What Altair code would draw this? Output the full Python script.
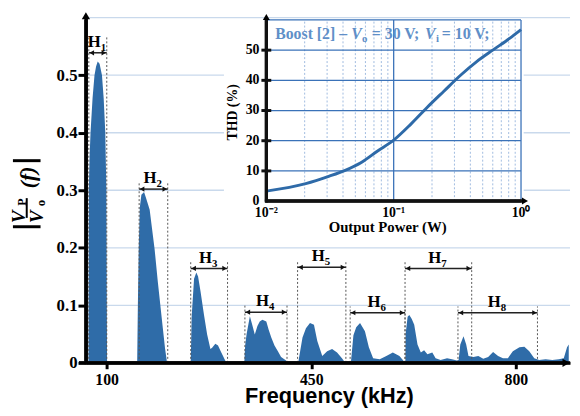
import altair as alt
import pandas as pd

# ---------------- data: spectrum ----------------
freq_khz = [
    69.0, 69.6, 71.0, 72.5, 76.0, 79.3, 82.0, 84.8, 88.0, 92.1, 95.0, 97.8, 99.6, 100.4, 100.8,
    152.3, 153.5, 155.0, 156.8, 159.5, 164.1, 168.0, 173.7, 176.4, 182.1, 187.7, 196.1, 200.0, 203.4,
    243.9, 245.5, 249.6, 253.5, 256.5, 260.7, 266.5, 272.0, 277.6, 280.5, 286.0, 290.6, 296.2, 302.9, 305.8,
    335.6, 337.0, 339.5, 345.1, 349.1, 353.5, 358.0, 362.0, 366.5, 373.2, 377.1, 381.7, 387.2, 393.0, 398.5, 407.0, 409.8,
    427.7, 435.1, 441.0, 447.9, 454.7, 460.4, 468.9, 477.3, 485.7, 494.2, 502.6, 508.2,
    517.8, 522.2, 527.0, 533.5, 541.9, 548.6, 555.9, 567.2, 578.5, 589.6, 600.9, 608.2, 609.5,
    611.0, 611.5, 614.9, 617.8, 622.0, 626.2, 631.8, 637.5, 643.1, 648.7, 657.1, 662.8, 671.3, 682.4, 690.8, 699.3,
    702.1, 705.0, 710.5, 715.1, 719.0, 727.4, 735.8, 744.3, 752.7, 761.1, 769.6, 778.0, 786.4, 794.9, 806.2,
    814.6, 823.0, 831.5, 839.9, 851.0, 862.3, 873.6, 882.0, 887.6, 890.5,
]
magnitude = [
    0.0, 0.30, 0.36, 0.40, 0.46, 0.50, 0.515, 0.524, 0.52, 0.50, 0.46, 0.40, 0.30, 0.10, 0.0,
    0.0, 0.10, 0.20, 0.27, 0.292, 0.297, 0.285, 0.266, 0.244, 0.198, 0.14, 0.061, 0.025, 0.0,
    0.0, 0.08, 0.146, 0.157, 0.15, 0.124, 0.084, 0.049, 0.024, 0.026, 0.033, 0.03, 0.018, 0.004, 0.0,
    0.0, 0.03, 0.05, 0.081, 0.066, 0.049, 0.064, 0.072, 0.075, 0.072, 0.058, 0.044, 0.03, 0.02, 0.01, 0.004, 0.0,
    0.0, 0.044, 0.06, 0.069, 0.066, 0.038, 0.012, 0.02, 0.024, 0.018, 0.008, 0.0,
    0.0, 0.048, 0.062, 0.069, 0.055, 0.027, 0.008, 0.006, 0.012, 0.018, 0.012, 0.003, 0.0,
    0.0, 0.05, 0.08, 0.083, 0.076, 0.066, 0.032, 0.018, 0.022, 0.015, 0.018, 0.008, 0.005, 0.008, 0.006, 0.004,
    0.005, 0.032, 0.046, 0.032, 0.012, 0.01, 0.012, 0.007, 0.01, 0.019, 0.012, 0.008, 0.008, 0.02, 0.027,
    0.028, 0.02, 0.008, 0.005, 0.006, 0.005, 0.006, 0.008, 0.027, 0.032,
]

# ---------------- data: harmonic bands ----------------
harmonic_index = ["1", "2", "3", "4", "5", "6", "7", "8"]
band_left = [69.6, 155.7, 243.9, 336.6, 426.7, 516.6, 610.5, 701.0]
band_right = [100.3, 204.6, 306.9, 408.6, 509.3, 610.5, 724.5, 837.0]
arrow_level = [0.539, 0.302, 0.164, 0.088, 0.166, 0.087, 0.164, 0.087]
band_top = [0.569, 0.314, 0.176, 0.100, 0.178, 0.098, 0.176, 0.098]

# ---------------- data: inset THD curve ----------------
thd_power_w = [0.01, 0.0204, 0.0309, 0.0416, 0.0561, 0.0753, 0.1, 0.1365, 0.1837,
               0.2477, 0.3334, 0.4487, 0.604, 0.813, 1.0]
thd_percent = [3.3, 5.8, 8.2, 10.2, 12.9, 16.7, 20.2, 25.5, 31.1,
               36.4, 41.6, 46.2, 50.1, 53.9, 56.8]

# ---------------- axes / grids ----------------
main_x_ticks = [100, 450, 800]
main_y_ticks = [0, 0.1, 0.2, 0.3, 0.4, 0.5]
main_grid = [0.1, 0.2, 0.3, 0.4, 0.5, 0.6]
main_x_domain = [64.6, 892.7]
main_y_domain = [0, 0.6]
inset_y_ticks = [0, 10, 20, 30, 40, 50]
inset_x_ticks = [0.01, 0.1, 1.0]
inset_x_labels = ["10⁻²", "10⁻¹", "10⁰"]
inset_hgrid = [10, 20, 30, 40, 50, 60]
inset_major_v = [0.1, 1.0]
inset_minor_v = [0.02, 0.03, 0.04, 0.05, 0.06, 0.07, 0.08, 0.09,
                 0.2, 0.3, 0.4, 0.5, 0.6, 0.7, 0.8, 0.9]
inset_x_domain = [0.01, 1.0]
inset_y_domain = [0, 60]

SERIF = "Liberation Serif"
SANS = "Liberation Sans"
FILL = "#2f6ca8"
AXC = "#111111"
W, H = 491, 350
IX0, IX1, IY0, IY1 = 183, 441.3, 186, 2.3   # inset plot rectangle inside the main view

X = alt.Scale(domain=main_x_domain, nice=False, zero=False)
Y = alt.Scale(domain=main_y_domain, nice=False, zero=False)
AXX = alt.Axis(values=main_x_ticks, title=None, grid=False, domain=True, domainColor="black",
               domainWidth=3, ticks=True, tickColor="black", tickWidth=3, tickSize=6,
               labelFont=SERIF, labelFontSize=16, labelFontWeight="bold", labelColor="black",
               labelPadding=3, zindex=1)
AXY = alt.Axis(values=main_y_ticks, title=None, grid=False, format=".1~f", domain=True,
               domainColor="black", domainWidth=3, ticks=True, tickColor="black", tickWidth=3,
               tickSize=8, labelFont=SERIF, labelFontSize=17, labelFontWeight="bold",
               labelColor="black", labelPadding=1, zindex=1)

spec_df = pd.DataFrame({"f": freq_khz, "v": magnitude})
band_df = pd.DataFrame({"h": harmonic_index, "xl": band_left, "xr": band_right,
                        "ay": arrow_level, "top": band_top})
band_df["mid"] = (band_df["xl"] + band_df["xr"]) / 2
band_df["zero"] = 0.0
grid_df = pd.DataFrame({"g": main_grid, "x0": main_x_domain[0], "x1": main_x_domain[1]})
frame_df = pd.DataFrame({"fx0": [main_x_domain[0]], "fx1": [main_x_domain[1]],
                         "fy0": [float(main_y_domain[0])], "fy1": [main_y_domain[1]]})
xaxis_pts = pd.DataFrame({"ax": main_x_domain, "ay": [0.0, 0.0]})
yaxis_pts = pd.DataFrame({"ax": [main_x_domain[0]] * 2, "ay": [0.0, main_y_domain[1]]})
one = pd.DataFrame({"k": [0]})

def mx(field):
    return alt.X(field, type="quantitative", scale=X, axis=AXX)

def my(field):
    return alt.Y(field, type="quantitative", scale=Y, axis=AXY)

grid = alt.Chart(grid_df).mark_rule(color="#c9d9ec", strokeWidth=1.3).encode(
    y=my("g"), x=mx("x0"), x2="x1")

area = alt.Chart(spec_df).mark_area(color=FILL, opacity=1).encode(x=mx("f"), y=my("v"))

dash_l = alt.Chart(band_df).mark_rule(color="#555555", strokeWidth=1, strokeDash=[2, 2]).encode(
    x=mx("xl"), y=my("zero"), y2="top")
dash_r = alt.Chart(band_df).mark_rule(color="#555555", strokeWidth=1, strokeDash=[2, 2]).encode(
    x=mx("xr"), y=my("zero"), y2="top")
arrow_line = alt.Chart(band_df).mark_rule(color="#222222", strokeWidth=1.5).encode(
    x=mx("xl"), x2="xr", y=my("ay"))
arrow_l = alt.Chart(band_df).mark_point(shape="triangle-left", filled=True, size=28,
                                        color="#111111", opacity=1, xOffset=3).encode(
    x=mx("xl"), y=my("ay"))
arrow_r = alt.Chart(band_df).mark_point(shape="triangle-right", filled=True, size=28,
                                        color="#111111", opacity=1, xOffset=-3).encode(
    x=mx("xr"), y=my("ay"))
h_text = alt.Chart(band_df).mark_text(text="H", font=SERIF, fontSize=17, fontWeight="bold",
                                      align="right", baseline="alphabetic", dx=3, dy=-6,
                                      color="black").encode(x=mx("mid"), y=my("ay"))
h_sub = alt.Chart(band_df).mark_text(font=SERIF, fontSize=11, fontWeight="bold",
                                     align="left", baseline="alphabetic", dx=3, dy=-2,
                                     color="black").encode(x=mx("mid"), y=my("ay"), text="h:N")

# axis lines: lines through the scales, rules and thin filled bars along the view edges
x_axis_line = alt.Chart(xaxis_pts).mark_line(color=AXC, strokeWidth=3, opacity=1).encode(
    x=mx("ax"), y=my("ay"))
y_axis_line = alt.Chart(yaxis_pts).mark_line(color=AXC, strokeWidth=3, opacity=1).encode(
    x=mx("ax"), y=my("ay"))
x_line = alt.Chart(one).mark_rule(color=AXC, strokeWidth=3).encode(
    x=alt.value(-7), x2=alt.value(W - 4), y=alt.value(H))
y_line = alt.Chart(one).mark_rule(color=AXC, strokeWidth=3).encode(
    x=alt.value(0), y=alt.value(H + 1), y2=alt.value(2))
x_bar = alt.Chart(one).mark_rect(color=AXC, opacity=1).encode(
    x=alt.value(-7), x2=alt.value(W - 4), y=alt.value(H - 1.5), y2=alt.value(H + 1.5))
y_bar = alt.Chart(one).mark_rect(color=AXC, opacity=1).encode(
    x=alt.value(-1.5), x2=alt.value(1.5), y=alt.value(2), y2=alt.value(H + 1.5))
tip_up = alt.Chart(frame_df).mark_point(shape="triangle-up", filled=True, size=70,
                                        color="black", opacity=1, yOffset=-2).encode(
    x=mx("fx0"), y=my("fy1"))
tip_right = alt.Chart(frame_df).mark_point(shape="triangle-right", filled=True, size=70,
                                           color="black", opacity=1, xOffset=-4).encode(
    x=mx("fx1"), y=my("fy0"))

# y-axis title |Vp/Vo (f)|
def rtext(txt, x, y, size, style="normal"):
    return alt.Chart(one).mark_text(text=txt, font=SERIF, fontSize=size, fontWeight="bold",
                                    fontStyle=style, angle=270, align="center",
                                    baseline="middle", color="black").encode(
        x=alt.value(x), y=alt.value(y))

ytitle = [
    alt.Chart(one).mark_rule(color="black", strokeWidth=3).encode(
        x=alt.value(-74), x2=alt.value(-46), y=alt.value(212)),
    alt.Chart(one).mark_rule(color="black", strokeWidth=3).encode(
        x=alt.value(-74), x2=alt.value(-46), y=alt.value(145)),
    alt.Chart(one).mark_rule(color="black", strokeWidth=2).encode(
        x=alt.value(-60), y=alt.value(183), y2=alt.value(203)),
    rtext("V", -68, 202, 19, "italic"),
    rtext("P", -65, 187, 12),
    rtext("V", -49, 202, 19, "italic"),
    rtext("o", -45, 188, 13),
    rtext("(f)", -59, 162, 22, "italic"),
]

xtitle = alt.Chart(one).mark_text(text="Frequency (kHz)", font=SANS, fontSize=22,
                                  fontWeight="bold", align="center", baseline="alphabetic",
                                  color="black").encode(x=alt.value(247), y=alt.value(391))

main = alt.layer(grid, area, dash_l, dash_r, arrow_line, arrow_l, arrow_r, h_text, h_sub,
                 xtitle, *ytitle, x_bar, y_bar, x_line, y_line, x_axis_line, y_axis_line,
                 tip_up, tip_right)

# ---------------- inset ----------------
X2 = alt.Scale(type="log", domain=inset_x_domain, range=[IX0, IX1])
Y2 = alt.Scale(domain=inset_y_domain, range=[IY0, IY1], nice=False, zero=False)

def ix(field):
    return alt.X(field, type="quantitative", scale=X2, axis=None)

def iy(field):
    return alt.Y(field, type="quantitative", scale=Y2, axis=None)

thd_df = pd.DataFrame({"p": thd_power_w, "t": thd_percent})
minor_df = pd.DataFrame({"p": inset_minor_v, "y0": inset_y_domain[0], "y1": inset_y_domain[1]})
major_df = pd.DataFrame({"p": inset_major_v, "y0": inset_y_domain[0], "y1": inset_y_domain[1]})
hgrid_df = pd.DataFrame({"t": inset_hgrid, "x0": inset_x_domain[0], "x1": inset_x_domain[1]})
iframe_df = pd.DataFrame({"ix0": [inset_x_domain[0]], "ix1": [inset_x_domain[1]],
                          "iy0": [float(inset_y_domain[0])], "iy1": [float(inset_y_domain[1])]})
ixaxis_pts = pd.DataFrame({"p": inset_x_domain, "t": [0.0, 0.0]})
iyaxis_pts = pd.DataFrame({"p": [inset_x_domain[0]] * 2, "t": [0.0, float(inset_y_domain[1])]})
iyt_df = pd.DataFrame({"t": inset_y_ticks, "p": inset_x_domain[0],
                       "lab": [str(v) for v in inset_y_ticks]})
ixt_df = pd.DataFrame({"p": inset_x_ticks, "t": float(inset_y_domain[0]), "lab": inset_x_labels})

bg = alt.Chart(one).mark_rect(color="white").encode(
    x=alt.value(140), x2=alt.value(444), y=alt.value(2), y2=alt.value(218))
minor = alt.Chart(minor_df).mark_rule(color="#9fbbe0", strokeWidth=1, strokeDash=[2, 2]).encode(
    x=ix("p"), y=iy("y0"), y2="y1")
major = alt.Chart(major_df).mark_rule(color="#3a72b8", strokeWidth=1.3).encode(
    x=ix("p"), y=iy("y0"), y2="y1")
hgrid = alt.Chart(hgrid_df).mark_rule(color="#3a72b8", strokeWidth=1.3).encode(
    y=iy("t"), x=ix("x0"), x2="x1")
curve = alt.Chart(thd_df).mark_line(color="#2e6aa8", strokeWidth=3, interpolate="monotone").encode(
    x=ix("p"), y=iy("t"))
ix_axis_line = alt.Chart(ixaxis_pts).mark_line(color=AXC, strokeWidth=3, opacity=1).encode(
    x=ix("p"), y=iy("t"))
iy_axis_line = alt.Chart(iyaxis_pts).mark_line(color=AXC, strokeWidth=3, opacity=1).encode(
    x=ix("p"), y=iy("t"))
ix_line = alt.Chart(one).mark_rule(color=AXC, strokeWidth=3).encode(
    x=alt.value(IX0 - 1), x2=alt.value(IX1 + 2), y=alt.value(IY0))
iy_line = alt.Chart(one).mark_rule(color=AXC, strokeWidth=3).encode(
    x=alt.value(IX0), y=alt.value(IY0 + 1), y2=alt.value(IY1 - 2))
ix_bar = alt.Chart(one).mark_rect(color=AXC, opacity=1).encode(
    x=alt.value(IX0 - 1.5), x2=alt.value(IX1 + 2), y=alt.value(IY0 - 1.5), y2=alt.value(IY0 + 1.5))
iy_bar = alt.Chart(one).mark_rect(color=AXC, opacity=1).encode(
    x=alt.value(IX0 - 1.5), x2=alt.value(IX0 + 1.5), y=alt.value(IY1 - 2), y2=alt.value(IY0 + 1.5))
iy_ticks = alt.Chart(iyt_df[iyt_df["t"] > 0]).mark_tick(
    orient="horizontal", size=10, thickness=3, color=AXC, opacity=1).encode(
    x=ix("p"), y=iy("t"))
iy_labels = alt.Chart(iyt_df).mark_text(font=SERIF, fontSize=14, fontWeight="bold",
                                        align="right", baseline="middle", dx=-7,
                                        color="black").encode(
    x=ix("p"), y=iy("t"), text="lab:N")
ix_labels = alt.Chart(ixt_df).mark_text(font=SERIF, fontSize=14, fontWeight="bold",
                                        align="center", baseline="top", dy=5,
                                        color="black").encode(
    x=ix("p"), y=iy("t"), text="lab:N")
itip_up = alt.Chart(iframe_df).mark_point(shape="triangle-up", filled=True, size=50,
                                          color="black", opacity=1, yOffset=-3).encode(
    x=ix("ix0"), y=iy("iy1"))
itip_right = alt.Chart(iframe_df).mark_point(shape="triangle-right", filled=True, size=50,
                                             color="black", opacity=1, xOffset=4).encode(
    x=ix("ix1"), y=iy("iy0"))

LEG = "#5f8fc8"
def ltext(txt, x, y, size, style="normal"):
    return alt.Chart(one).mark_text(text=txt, font=SERIF, fontSize=size, fontWeight="bold",
                                    fontStyle=style, align="left", baseline="alphabetic",
                                    color=LEG).encode(x=alt.value(x), y=alt.value(y))

legend = [
    ltext("Boost [2] –", 192, 22, 16),
    ltext("V", 269, 22, 16, "italic"),
    ltext("o", 280, 25, 11),
    ltext("= 30 V;", 290, 22, 16),
    ltext("V", 344, 22, 16, "italic"),
    ltext("i", 355, 25, 11),
    ltext("= 10 V;", 361, 22, 16),
]
thd_title = alt.Chart(one).mark_text(text="THD (%)", font=SERIF, fontSize=14, fontWeight="bold",
                                     angle=270, align="center", baseline="middle",
                                     color="black").encode(x=alt.value(149), y=alt.value(96))
pow_title = alt.Chart(one).mark_text(text="Output Power (W)", font=SERIF, fontSize=15,
                                     fontWeight="bold", align="center", baseline="alphabetic",
                                     color="black").encode(x=alt.value(306), y=alt.value(217))

inset = alt.layer(bg, minor, major, hgrid, curve, thd_title, pow_title, *legend,
                  ix_bar, iy_bar, ix_line, iy_line, ix_axis_line, iy_axis_line, iy_ticks,
                  iy_labels, ix_labels, itip_up, itip_right)

chart = alt.layer(main, inset).resolve_scale(x="independent", y="independent").properties(
    width=W, height=H,
    autosize=alt.AutoSizeParams(type="none"),
    padding={"left": 79, "top": 7, "right": 2, "bottom": 43},
).configure_view(stroke=None)

chart.save("out.html", embed_options={"renderer": "svg", "actions": False})
